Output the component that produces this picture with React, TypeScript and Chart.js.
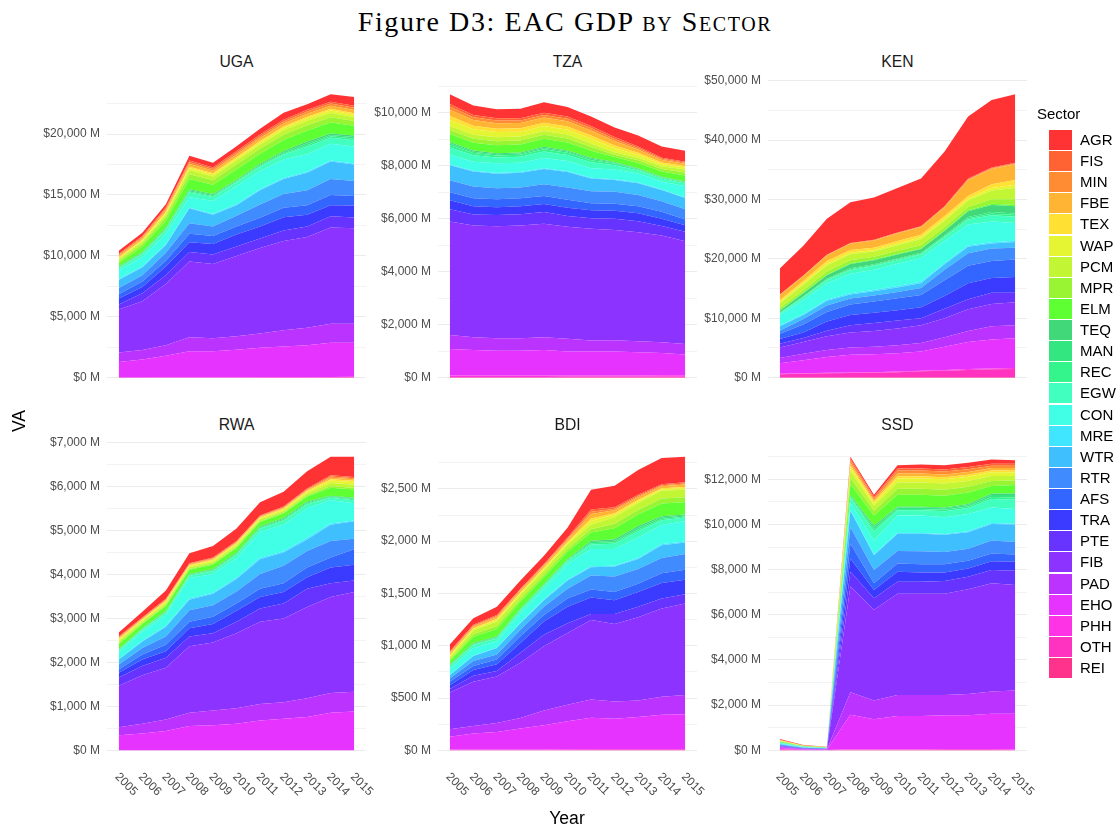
import React, { useEffect, useRef } from 'react';
import { Chart, registerables } from 'chart.js';

Chart.register(...registerables);

const SANS = '"Liberation Sans", Arial, Helvetica, sans-serif';
const SERIF = '"Liberation Serif", "DejaVu Serif", Times, serif';

// ---------------- data ----------------
const YEARS = [2005, 2006, 2007, 2008, 2009, 2010, 2011, 2012, 2013, 2014, 2015];

// legend order (top of stack first)
const SECTORS = ['AGR', 'FIS', 'MIN', 'FBE', 'TEX', 'WAP', 'PCM', 'MPR', 'ELM', 'TEQ', 'MAN', 'REC', 'EGW',
  'CON', 'MRE', 'WTR', 'RTR', 'AFS', 'TRA', 'PTE', 'FIB', 'PAD', 'EHO', 'PHH', 'OTH', 'REI'];

const SECTOR_COLORS = ['#FF3333', '#FF6233', '#FF8C33', '#FFB433', '#FFE033', '#E6F533', '#C2F533', '#99F533',
  '#5EFF33', '#40D878', '#33E680', '#33F58C', '#40FFBF', '#40FFE6', '#40E6FF', '#40BFFF', '#408CFF', '#3366FF',
  '#3B3BFF', '#6633FF', '#8C33FF', '#BB33FF', '#E633FF', '#FF33E6', '#FF33BF', '#FF338C'];

// value added, million USD; one row per sector (SECTORS order), one column per year
const UGA_VA = [
  [262, 262, 261, 393, 393, 392, 470, 575, 444, 601, 732],
  [69, 80, 100, 133, 124, 133, 142, 146, 156, 156, 157],
  [90, 90, 115, 150, 139, 149, 159, 164, 174, 174, 183],
  [130, 130, 170, 220, 205, 220, 234, 241, 256, 256, 262],
  [70, 70, 86, 110, 102, 110, 117, 121, 128, 128, 130],
  [90, 100, 130, 171, 162, 173, 184, 190, 201, 202, 209],
  [150, 180, 220, 330, 302, 330, 330, 357, 357, 357, 314],
  [170, 220, 272, 408, 374, 408, 408, 442, 442, 442, 392],
  [250, 437, 554, 830, 761, 830, 831, 900, 900, 900, 784],
  [40, 60, 73, 92, 80, 73, 84, 98, 146, 117, 131],
  [70, 60, 73, 92, 80, 73, 84, 98, 146, 117, 131],
  [70, 60, 73, 92, 80, 73, 84, 98, 146, 117, 130],
  [160, 238, 304, 378, 335, 304, 349, 406, 608, 485, 523],
  [714, 790, 870, 870, 1070, 1490, 1490, 1520, 1440, 1390, 1386],
  [70, 46, 45, 45, 54, 78, 79, 81, 76, 74, 78],
  [654, 654, 653, 1228, 967, 863, 1176, 1228, 1438, 1438, 1359],
  [522, 523, 654, 863, 785, 888, 1098, 1124, 1228, 1307, 1229],
  [340, 444, 470, 705, 653, 654, 705, 784, 784, 836, 784],
  [497, 523, 706, 785, 863, 993, 994, 1098, 967, 915, 993],
  [418, 653, 732, 784, 784, 785, 784, 863, 863, 915, 889],
  [3529, 4000, 5019, 6221, 6091, 6587, 7006, 7319, 7450, 7920, 7842],
  [784, 784, 862, 1150, 1071, 1098, 1176, 1333, 1438, 1543, 1543],
  [1260, 1470, 1782, 2145, 2140, 2260, 2410, 2510, 2610, 2815, 2805],
  [11, 12, 12, 15, 18, 25, 30, 33, 35, 38, 40],
  [10, 8, 10, 10, 12, 15, 17, 19, 21, 22, 25],
  [0, 0, 0, 0, 0, 0, 0, 0, 0, 0, 5],
];

const TZA_VA = [
  [359, 359, 335, 359, 395, 359, 360, 359, 420, 419, 419],
  [100, 89, 86, 83, 82, 82, 79, 69, 50, 39, 35],
  [120, 104, 101, 97, 96, 96, 92, 81, 59, 46, 40],
  [240, 215, 209, 202, 198, 198, 191, 167, 122, 94, 84],
  [150, 134, 129, 125, 123, 123, 119, 103, 76, 59, 52],
  [229, 201, 194, 188, 185, 184, 178, 155, 113, 87, 78],
  [150, 150, 150, 150, 150, 150, 135, 90, 99, 99, 114],
  [150, 150, 150, 150, 150, 150, 135, 90, 99, 99, 114],
  [299, 299, 299, 299, 300, 299, 270, 180, 198, 197, 227],
  [50, 42, 39, 38, 42, 40, 40, 29, 20, 18, 18],
  [60, 50, 46, 46, 50, 48, 48, 35, 24, 22, 22],
  [100, 88, 81, 81, 88, 83, 83, 61, 43, 38, 38],
  [271, 240, 219, 219, 239, 225, 225, 164, 116, 102, 102],
  [365, 345, 368, 356, 392, 392, 357, 370, 336, 302, 421],
  [30, 27, 27, 27, 28, 28, 26, 25, 24, 22, 22],
  [563, 564, 540, 553, 575, 576, 479, 443, 443, 419, 419],
  [455, 442, 419, 406, 443, 466, 455, 455, 431, 395, 395],
  [300, 300, 299, 300, 300, 300, 264, 264, 264, 263, 216],
  [347, 312, 300, 300, 299, 311, 300, 299, 299, 276, 240],
  [455, 419, 419, 431, 443, 407, 395, 420, 420, 359, 359],
  [4288, 4216, 4228, 4252, 4288, 4229, 4216, 4168, 4108, 4025, 3880],
  [527, 479, 467, 467, 479, 479, 419, 419, 419, 407, 396],
  [1000, 964, 940, 940, 964, 904, 904, 904, 868, 844, 784],
  [50, 50, 49, 49, 50, 52, 52, 53, 54, 55, 55],
  [20, 20, 20, 20, 20, 21, 21, 21, 22, 22, 22],
  [8, 8, 8, 8, 8, 8, 9, 9, 9, 9, 9],
];

const KEN_VA = [
  [4385, 4973, 6043, 6845, 7113, 7487, 8022, 9199, 10429, 11338, 11498],
  [48, 48, 54, 59, 67, 72, 72, 83, 147, 142, 160],
  [39, 39, 43, 47, 53, 58, 58, 66, 118, 113, 107],
  [876, 876, 973, 1071, 1217, 1314, 1314, 1509, 2677, 2580, 2674],
  [325, 376, 437, 427, 376, 406, 437, 457, 457, 627, 803],
  [222, 257, 299, 292, 257, 278, 299, 313, 313, 429, 534],
  [770, 891, 1035, 1011, 890, 963, 1035, 1083, 1083, 1485, 1872],
  [394, 455, 528, 516, 455, 492, 529, 553, 553, 759, 963],
  [56, 86, 101, 124, 120, 116, 112, 127, 168, 207, 214],
  [321, 492, 578, 706, 685, 663, 642, 728, 963, 1183, 1230],
  [72, 111, 130, 159, 154, 149, 144, 164, 217, 266, 267],
  [72, 111, 130, 159, 154, 149, 144, 164, 217, 266, 268],
  [281, 430, 505, 617, 599, 581, 562, 636, 842, 1035, 1069],
  [1760, 2362, 2765, 3267, 3418, 3770, 4021, 3670, 3518, 3518, 3000],
  [112, 151, 177, 209, 218, 241, 257, 234, 225, 225, 209],
  [764, 642, 802, 695, 696, 748, 803, 909, 1070, 803, 963],
  [500, 963, 1070, 1017, 1016, 1070, 1176, 1765, 2139, 2139, 1978],
  [900, 1337, 1604, 1764, 1925, 2032, 2032, 2674, 2941, 2834, 2942],
  [800, 904, 1564, 1705, 1711, 1712, 1872, 2139, 2674, 2514, 2674],
  [619, 700, 950, 1237, 1337, 1337, 1177, 1604, 1712, 1872, 1604],
  [1765, 1979, 2299, 2513, 2674, 2834, 2995, 3209, 3636, 3743, 3851],
  [909, 1070, 1177, 1230, 1230, 1337, 1444, 1604, 1872, 2246, 2192],
  [1765, 2192, 2674, 2995, 3049, 3102, 3208, 3905, 4546, 4867, 5028],
  [64, 75, 80, 86, 91, 102, 118, 128, 144, 155, 160],
  [546, 637, 682, 727, 773, 863, 1000, 1091, 1228, 1318, 1364],
  [32, 37, 40, 43, 45, 51, 59, 64, 72, 78, 80],
];

const RWA_VA = [
  [90, 127, 188, 225, 262, 284, 299, 337, 389, 419, 456],
  [17, 15, 17, 15, 16, 16, 15, 16, 18, 28, 28],
  [17, 15, 17, 15, 16, 16, 15, 16, 18, 28, 28],
  [20, 17, 19, 17, 18, 18, 17, 18, 21, 32, 33],
  [20, 17, 19, 17, 18, 18, 17, 18, 21, 32, 33],
  [34, 30, 33, 30, 31, 31, 30, 31, 36, 56, 57],
  [43, 37, 42, 37, 39, 39, 37, 39, 45, 70, 71],
  [23, 20, 22, 20, 21, 21, 20, 21, 24, 37, 38],
  [110, 96, 108, 96, 103, 103, 96, 103, 117, 181, 184],
  [11, 11, 15, 13, 17, 19, 19, 22, 22, 15, 19],
  [11, 11, 15, 13, 17, 19, 19, 22, 22, 15, 19],
  [11, 11, 15, 14, 17, 19, 19, 23, 23, 15, 19],
  [42, 42, 52, 50, 61, 71, 71, 83, 83, 52, 70],
  [157, 214, 249, 469, 427, 447, 590, 604, 675, 534, 391],
  [8, 11, 13, 25, 22, 24, 31, 32, 36, 28, 21],
  [112, 149, 225, 239, 262, 285, 337, 300, 262, 374, 397],
  [112, 150, 187, 263, 262, 277, 337, 397, 374, 375, 239],
  [75, 113, 149, 149, 165, 165, 187, 202, 225, 224, 352],
  [112, 149, 150, 188, 210, 247, 262, 262, 262, 360, 360],
  [188, 210, 225, 224, 209, 262, 300, 337, 412, 314, 262],
  [943, 1101, 1175, 1512, 1550, 1707, 1871, 1909, 2081, 2186, 2268],
  [180, 224, 262, 300, 337, 352, 375, 374, 427, 449, 450],
  [340, 378, 438, 550, 565, 602, 677, 715, 752, 850, 879],
  [2, 2, 2, 2, 2, 2, 2, 2, 2, 2, 2],
  [1, 1, 1, 1, 1, 1, 1, 1, 1, 1, 1],
  [1, 1, 1, 1, 1, 1, 1, 1, 1, 1, 1],
];

const BDI_VA = [
  [63, 63, 79, 79, 79, 95, 189, 205, 236, 252, 243],
  [9, 8, 9, 9, 9, 10, 21, 14, 12, 9, 11],
  [9, 8, 9, 9, 9, 10, 21, 14, 12, 9, 11],
  [19, 16, 19, 19, 19, 21, 43, 29, 24, 19, 22],
  [10, 8, 10, 10, 10, 10, 21, 14, 12, 10, 11],
  [16, 14, 16, 16, 16, 18, 36, 24, 19, 16, 17],
  [19, 36, 42, 38, 38, 40, 47, 63, 66, 73, 71],
  [13, 24, 28, 25, 25, 27, 31, 42, 44, 48, 47],
  [31, 59, 71, 63, 63, 68, 79, 106, 111, 121, 118],
  [7, 7, 7, 7, 7, 7, 12, 14, 16, 13, 9],
  [7, 7, 7, 7, 7, 7, 12, 14, 16, 13, 9],
  [7, 7, 7, 7, 7, 7, 12, 14, 17, 13, 10],
  [26, 27, 27, 26, 26, 27, 43, 52, 61, 46, 35],
  [54, 74, 60, 89, 104, 149, 164, 159, 194, 182, 195],
  [3, 4, 3, 5, 6, 8, 9, 8, 10, 10, 10],
  [32, 48, 63, 63, 63, 79, 79, 94, 95, 123, 110],
  [31, 47, 47, 63, 79, 94, 135, 148, 142, 145, 151],
  [32, 38, 47, 63, 63, 79, 76, 79, 78, 94, 95],
  [37, 56, 63, 95, 126, 157, 157, 132, 142, 148, 138],
  [32, 57, 54, 94, 110, 95, 57, 95, 101, 95, 89],
  [352, 422, 444, 529, 614, 686, 762, 743, 796, 844, 875],
  [73, 72, 85, 101, 142, 158, 173, 164, 158, 173, 183],
  [122, 154, 169, 200, 230, 267, 300, 290, 306, 328, 334],
  [4, 4, 4, 5, 5, 6, 7, 7, 7, 7, 7],
  [2, 2, 2, 2, 3, 3, 4, 4, 4, 4, 4],
  [1, 1, 1, 1, 1, 1, 1, 1, 1, 1, 1],
];

const SSD_VA = [
  [30, 12, 8, 73, 87, 146, 176, 189, 190, 190, 161],
  [10, 5, 3, 83, 59, 94, 94, 94, 92, 81, 81],
  [10, 5, 3, 111, 79, 126, 126, 126, 123, 108, 108],
  [10, 5, 3, 111, 79, 126, 126, 126, 123, 108, 108],
  [10, 5, 3, 84, 59, 94, 94, 94, 92, 81, 81],
  [15, 7, 5, 167, 119, 188, 188, 189, 184, 163, 163],
  [15, 7, 5, 292, 219, 270, 270, 270, 255, 219, 197],
  [15, 7, 5, 292, 219, 271, 271, 271, 256, 219, 197],
  [25, 12, 8, 468, 439, 526, 526, 511, 512, 336, 380],
  [5, 3, 2, 34, 66, 39, 39, 44, 44, 61, 69],
  [8, 4, 3, 50, 99, 59, 59, 66, 66, 92, 103],
  [8, 4, 3, 50, 98, 59, 59, 66, 66, 92, 103],
  [20, 10, 7, 202, 394, 237, 237, 262, 262, 369, 412],
  [30, 15, 10, 347, 625, 764, 764, 736, 764, 694, 653],
  [5, 3, 2, 18, 33, 40, 40, 39, 40, 37, 34],
  [30, 15, 10, 731, 658, 760, 775, 760, 731, 730, 774],
  [30, 15, 10, 731, 584, 555, 570, 541, 541, 585, 556],
  [20, 10, 7, 657, 293, 366, 365, 365, 336, 336, 321],
  [20, 10, 7, 585, 365, 438, 409, 380, 365, 395, 395],
  [20, 10, 7, 657, 511, 541, 541, 570, 555, 584, 628],
  [30, 15, 12, 4677, 4019, 4472, 4472, 4472, 4633, 4794, 4677],
  [30, 12, 8, 994, 833, 935, 935, 906, 950, 979, 1023],
  [50, 20, 14, 1533, 1329, 1475, 1470, 1489, 1489, 1562, 1582],
  [25, 10, 6, 22, 22, 22, 25, 30, 30, 30, 20],
  [20, 7, 4, 14, 14, 14, 15, 18, 18, 18, 12],
  [10, 3, 2, 9, 9, 9, 10, 12, 12, 12, 8],
];

// y-axis tick labels (major) and minor grid values
const UGA_TICKS = [0, 5000, 10000, 15000, 20000];
const UGA_MINOR = [2500, 7500, 12500, 17500, 22500];
const TZA_TICKS = [0, 2000, 4000, 6000, 8000, 10000];
const TZA_MINOR = [1000, 3000, 5000, 7000, 9000, 11000];
const KEN_TICKS = [0, 10000, 20000, 30000, 40000, 50000];
const KEN_MINOR = [5000, 15000, 25000, 35000, 45000];
const RWA_TICKS = [0, 1000, 2000, 3000, 4000, 5000, 6000, 7000];
const RWA_MINOR = [500, 1500, 2500, 3500, 4500, 5500, 6500];
const BDI_TICKS = [0, 500, 1000, 1500, 2000, 2500];
const BDI_MINOR = [250, 750, 1250, 1750, 2250, 2750];
const SSD_TICKS = [0, 2000, 4000, 6000, 8000, 10000, 12000];
const SSD_MINOR = [1000, 3000, 5000, 7000, 9000, 11000, 13000];

// ---------------- layout ----------------
const PLOT_LEFT = [107, 438, 768];
const PLOT_TOP = [76, 438];
const PLOT_W = 259;
const PLOT_H = [326, 327];
const AXIS_W = 100;
const PAD_RIGHT = 30;

type PanelCfg = { name: string; values: number[][]; ticks: number[]; minor: number[]; row: number; col: number };

const PANELS: PanelCfg[] = [
  { name: 'UGA', values: UGA_VA, ticks: UGA_TICKS, minor: UGA_MINOR, row: 0, col: 0 },
  { name: 'TZA', values: TZA_VA, ticks: TZA_TICKS, minor: TZA_MINOR, row: 0, col: 1 },
  { name: 'KEN', values: KEN_VA, ticks: KEN_TICKS, minor: KEN_MINOR, row: 0, col: 2 },
  { name: 'RWA', values: RWA_VA, ticks: RWA_TICKS, minor: RWA_MINOR, row: 1, col: 0 },
  { name: 'BDI', values: BDI_VA, ticks: BDI_TICKS, minor: BDI_MINOR, row: 1, col: 1 },
  { name: 'SSD', values: SSD_VA, ticks: SSD_TICKS, minor: SSD_MINOR, row: 1, col: 2 },
];

const fmtMoney = (v: number) => '$' + Math.round(v).toLocaleString('en-US') + ' M';

const xLabelPlugin = {
  id: 'xYearLabels',
  afterDraw(chart: any) {
    const { ctx, chartArea } = chart;
    const xs = chart.scales.x;
    ctx.save();
    ctx.fillStyle = '#4D4D4D';
    ctx.font = '12px ' + SANS;
    ctx.textAlign = 'left';
    ctx.textBaseline = 'middle';
    YEARS.forEach((yr) => {
      const px = xs.getPixelForValue(yr);
      ctx.save();
      ctx.translate(px - 2, chartArea.bottom + 10);
      ctx.rotate(Math.PI / 4);
      ctx.fillText(String(yr), 0, 0);
      ctx.restore();
    });
    ctx.restore();
  },
};

function Panel({ cfg }: { cfg: PanelCfg }) {
  const ref = useRef<HTMLCanvasElement>(null);
  const padBottom = cfg.row === 1 ? 50 : 4;
  const cw = AXIS_W + PLOT_W + PAD_RIGHT;
  const ch = 10 + PLOT_H[cfg.row] + padBottom;

  useEffect(() => {
    if (!ref.current) return;
    const totals = YEARS.map((_, j) => cfg.values.reduce((s, row) => s + row[j], 0));
    const maxT = Math.max(...totals);
    const datasets: any[] = [];
    for (let i = SECTORS.length - 1; i >= 0; i--) {
      datasets.push({
        label: SECTORS[i],
        data: YEARS.map((yr, j) => ({ x: yr, y: cfg.values[i][j] })),
        backgroundColor: SECTOR_COLORS[i],
        borderColor: SECTOR_COLORS[i],
        borderWidth: 0,
        pointRadius: 0,
        tension: 0,
        fill: datasets.length === 0 ? 'origin' : '-1',
      });
    }
    const gridVals = [...cfg.ticks, ...cfg.minor].sort((a, b) => a - b);
    const chart = new Chart(ref.current, {
      type: 'line',
      data: { datasets },
      options: {
        animation: false,
        responsive: false,
        devicePixelRatio: 1,
        layout: { padding: { top: 10, right: PAD_RIGHT, bottom: padBottom, left: 0 } },
        plugins: { legend: { display: false }, tooltip: { enabled: false }, title: { display: false } },
        scales: {
          x: { type: 'linear', min: 2004.5, max: 2015.5, display: false },
          y: {
            stacked: true,
            min: -0.05 * maxT,
            max: 1.05 * maxT,
            border: { display: false },
            grid: {
              drawTicks: false,
              color: (c: any) => (cfg.ticks.includes(c.tick?.value) ? '#EBEBEB' : '#F3F3F3'),
              lineWidth: 1,
            },
            ticks: {
              autoSkip: false,
              padding: 7,
              color: '#4D4D4D',
              font: { family: SANS, size: 12 },
              callback: (v: any) => (cfg.ticks.includes(Number(v)) ? fmtMoney(Number(v)) : ''),
            },
            afterBuildTicks: (scale: any) => {
              scale.ticks = gridVals.map((v) => ({ value: v }));
            },
            afterFit: (scale: any) => {
              scale.width = AXIS_W;
            },
          },
        },
      } as any,
      plugins: cfg.row === 1 ? [xLabelPlugin] : [],
    });
    return () => chart.destroy();
  }, []);

  return (
    <>
      <div
        style={{
          position: 'absolute',
          left: PLOT_LEFT[cfg.col],
          top: (cfg.row === 0 ? 61.5 : 425) - 10,
          width: PLOT_W,
          height: 20,
          lineHeight: '20px',
          textAlign: 'center',
          fontFamily: SANS,
          fontSize: 15.7,
          color: '#1A1A1A',
        }}
      >
        {cfg.name}
      </div>
      <canvas
        ref={ref}
        width={cw}
        height={ch}
        style={{ position: 'absolute', left: PLOT_LEFT[cfg.col] - AXIS_W, top: PLOT_TOP[cfg.row] - 10, width: cw, height: ch }}
      />
    </>
  );
}

export default function App() {
  return (
    <div style={{ position: 'absolute', left: 0, top: 0, width: 1116, height: 831, background: '#ffffff', overflow: 'hidden' }}>
      <div
        style={{
          position: 'absolute',
          left: 0,
          top: 6,
          width: 1130,
          textAlign: 'center',
          fontFamily: SERIF,
          fontSize: 28,
          letterSpacing: '1.6px',
          lineHeight: '32px',
          color: '#000',
        }}
      >
        Figure D3: EAC GDP <span style={{ fontVariant: 'small-caps' }}>by Sector</span>
      </div>

      {PANELS.map((p) => (
        <Panel key={p.name} cfg={p} />
      ))}

      <div
        style={{
          position: 'absolute',
          left: 19 - 20,
          top: 421 - 12,
          width: 40,
          height: 24,
          lineHeight: '24px',
          textAlign: 'center',
          transform: 'rotate(-90deg)',
          fontFamily: SANS,
          fontSize: 17.6,
          color: '#000',
        }}
      >
        VA
      </div>
      <div
        style={{
          position: 'absolute',
          left: 517,
          top: 818 - 12,
          width: 100,
          height: 24,
          lineHeight: '24px',
          textAlign: 'center',
          fontFamily: SANS,
          fontSize: 17.6,
          color: '#000',
        }}
      >
        Year
      </div>

      <div
        style={{
          position: 'absolute',
          left: 1037,
          top: 114 - 10,
          height: 20,
          lineHeight: '20px',
          fontFamily: SANS,
          fontSize: 15,
          color: '#000',
        }}
      >
        Sector
      </div>
      {SECTORS.map((s, i) => {
        const cy = 140 + 21.12 * i;
        return (
          <React.Fragment key={s}>
            <div
              style={{
                position: 'absolute',
                left: 1049,
                top: cy - 10,
                width: 23,
                height: 20,
                background: SECTOR_COLORS[i],
              }}
            />
            <div
              style={{
                position: 'absolute',
                left: 1080,
                top: cy - 10,
                height: 20,
                lineHeight: '20px',
                fontFamily: SANS,
                fontSize: 15,
                color: '#000',
                whiteSpace: 'nowrap',
              }}
            >
              {s}
            </div>
          </React.Fragment>
        );
      })}
    </div>
  );
}
